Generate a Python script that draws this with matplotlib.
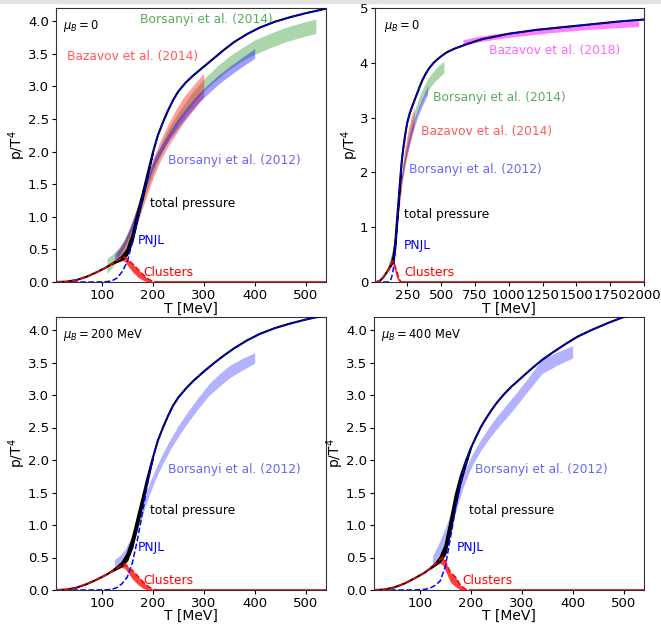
import matplotlib.pyplot as plt
from matplotlib.patches import Rectangle

# temperatures (MeV) for the model curves
T = [10, 30, 50, 70, 90, 110, 120, 130, 140, 150, 160, 170, 180, 190,
     200, 210, 220, 230, 240, 250, 265, 280, 300, 320, 340, 360, 385, 410, 440, 470, 500, 540]
T_ext = [600, 700, 800, 1000, 1200, 1400, 1600, 1800, 2000]

# total pressure p/T^4
total_0 = [0, 0.005, 0.03, 0.08, 0.15, 0.23, 0.28, 0.33, 0.39, 0.5, 0.72, 1.05, 1.35, 1.67,
           1.98, 2.25, 2.45, 2.63, 2.79, 2.92, 3.06, 3.17, 3.3, 3.43, 3.56, 3.68, 3.8, 3.9, 3.99, 4.06, 4.12, 4.19]
total_0_ext = [4.26, 4.35, 4.43, 4.53, 4.6, 4.65, 4.7, 4.75, 4.79]
total_200 = [0, 0.006, 0.035, 0.09, 0.16, 0.24, 0.29, 0.35, 0.42, 0.55, 0.78, 1.1, 1.42, 1.74,
             2.03, 2.3, 2.5, 2.68, 2.84, 2.96, 3.1, 3.22, 3.36, 3.49, 3.61, 3.72, 3.84, 3.94, 4.03, 4.1, 4.16, 4.23]
total_400 = [0, 0.007, 0.04, 0.1, 0.18, 0.27, 0.33, 0.4, 0.5, 0.68, 1.05, 1.45, 1.75, 1.98,
             2.18, 2.35, 2.51, 2.64, 2.76, 2.87, 3.01, 3.13, 3.27, 3.41, 3.54, 3.65, 3.78, 3.9, 4.01, 4.11, 4.2, 4.3]

# PNJL part
pnjl_0 = [0, 0, 0, 0, 0, 0.005, 0.02, 0.06, 0.16, 0.31, 0.62, 0.95, 1.3, 1.63,
          1.97, 2.25, 2.45, 2.63, 2.79, 2.92, 3.06, 3.17, 3.3, 3.43, 3.56, 3.68, 3.8, 3.9, 3.99, 4.06, 4.12, 4.19]
pnjl_200 = [0, 0, 0, 0, 0, 0.003, 0.01, 0.04, 0.1, 0.2, 0.42, 0.78, 1.2, 1.65,
            2.02, 2.3, 2.5, 2.68, 2.84, 2.96, 3.1, 3.22, 3.36, 3.49, 3.61, 3.72, 3.84, 3.94, 4.03, 4.1, 4.16, 4.23]
pnjl_400 = [0, 0, 0, 0, 0, 0.01, 0.03, 0.07, 0.14, 0.36, 0.8, 1.25, 1.65, 1.95,
            2.18, 2.35, 2.51, 2.64, 2.76, 2.87, 3.01, 3.13, 3.27, 3.41, 3.54, 3.65, 3.78, 3.9, 4.01, 4.11, 4.2, 4.3]

# uncertainty of total pressure near the transition
T_tb = [120, 130, 140, 150, 160, 170, 180, 190, 200]
tb_hi_0 = [0.28, 0.33, 0.39, 0.5, 0.72, 1.05, 1.35, 1.67, 1.98]
tb_lo_0 = [0.28, 0.31, 0.34, 0.42, 0.62, 0.95, 1.27, 1.62, 1.98]
tb_hi_200 = [0.29, 0.35, 0.42, 0.55, 0.78, 1.1, 1.42, 1.74, 2.03]
tb_lo_200 = [0.29, 0.33, 0.37, 0.46, 0.66, 0.98, 1.33, 1.68, 2.03]
tb_hi_400 = [0.33, 0.4, 0.5, 0.68, 1.05, 1.45, 1.75, 1.98, 2.18]
tb_lo_400 = [0.33, 0.38, 0.44, 0.55, 0.9, 1.3, 1.65, 1.92, 2.18]

# clusters
T_cl = [10, 30, 50, 70, 90, 110, 120, 130, 140, 145, 150, 160, 170, 180, 190, 200, 210]
cl_hi_0 = [0, 0.005, 0.03, 0.08, 0.15, 0.23, 0.28, 0.33, 0.38, 0.38, 0.35, 0.28, 0.2, 0.12, 0.05, 0.01, 0]
cl_lo_0 = [0, 0.005, 0.03, 0.08, 0.15, 0.23, 0.27, 0.31, 0.34, 0.31, 0.26, 0.16, 0.08, 0.03, 0, 0, 0]
cl_hi_200 = [0, 0.006, 0.035, 0.09, 0.16, 0.24, 0.29, 0.34, 0.39, 0.4, 0.37, 0.3, 0.22, 0.13, 0.06, 0.01, 0]
cl_lo_200 = [0, 0.006, 0.035, 0.09, 0.16, 0.24, 0.28, 0.32, 0.35, 0.33, 0.28, 0.17, 0.09, 0.03, 0, 0, 0]
cl_hi_400 = [0, 0.007, 0.04, 0.1, 0.18, 0.27, 0.33, 0.4, 0.47, 0.5, 0.44, 0.27, 0.2, 0.07, 0.01, 0, 0]
cl_lo_400 = [0, 0.007, 0.04, 0.1, 0.18, 0.27, 0.32, 0.38, 0.41, 0.38, 0.3, 0.12, 0.05, 0, 0, 0, 0]

# lattice results
T_bo14 = [110, 120, 130, 140, 150, 160, 170, 180, 190, 200, 215, 230, 250, 275, 300, 325, 350, 375, 400, 430, 460, 490, 520]
bo14_lo = [0.13, 0.22, 0.32, 0.44, 0.59, 0.78, 1.0, 1.22, 1.44, 1.66, 1.94, 2.18, 2.44, 2.7, 2.93, 3.1, 3.26, 3.39, 3.49, 3.59, 3.68, 3.75, 3.81]
bo14_hi = [0.36, 0.42, 0.5, 0.6, 0.75, 0.94, 1.16, 1.38, 1.6, 1.82, 2.1, 2.34, 2.6, 2.88, 3.11, 3.3, 3.46, 3.59, 3.71, 3.81, 3.9, 3.97, 4.03]

T_bz14 = [130, 140, 150, 160, 170, 180, 190, 200, 215, 230, 245, 260, 280, 300]
bz14_lo = [0.33, 0.42, 0.55, 0.72, 0.92, 1.14, 1.36, 1.58, 1.86, 2.08, 2.26, 2.44, 2.64, 2.84]
bz14_hi = [0.45, 0.57, 0.73, 0.93, 1.16, 1.4, 1.64, 1.88, 2.17, 2.42, 2.64, 2.83, 3.02, 3.2]

T_bo12 = [125, 135, 145, 155, 165, 175, 185, 195, 205, 220, 235, 250, 270, 290, 310, 330, 350, 375, 400]
bo12_lo_0 = [0.33, 0.42, 0.55, 0.73, 0.95, 1.19, 1.42, 1.63, 1.82, 2.02, 2.21, 2.37, 2.57, 2.75, 2.9, 3.04, 3.16, 3.3, 3.43]
bo12_hi_0 = [0.43, 0.52, 0.65, 0.83, 1.05, 1.29, 1.53, 1.75, 1.94, 2.14, 2.33, 2.51, 2.71, 2.89, 3.04, 3.18, 3.3, 3.44, 3.58]
bo12_lo_200 = [0.33, 0.38, 0.44, 0.58, 0.8, 1.05, 1.28, 1.5, 1.7, 1.95, 2.17, 2.36, 2.59, 2.8, 2.99, 3.13, 3.26, 3.38, 3.49]
bo12_hi_200 = [0.47, 0.53, 0.62, 0.77, 0.98, 1.22, 1.45, 1.67, 1.86, 2.11, 2.33, 2.53, 2.76, 2.97, 3.17, 3.32, 3.45, 3.56, 3.65]
T_bo12_400 = [125, 135, 145, 155, 165, 175, 185, 195, 205, 220, 235, 250, 270, 290, 310, 340, 370, 400]
bo12_lo_400 = [0.4, 0.5, 0.62, 0.8, 1.05, 1.33, 1.58, 1.78, 1.95, 2.15, 2.32, 2.47, 2.65, 2.84, 3.04, 3.33, 3.46, 3.57]
bo12_hi_400 = [0.52, 0.68, 0.86, 1.06, 1.3, 1.55, 1.78, 1.96, 2.12, 2.32, 2.5, 2.66, 2.85, 3.04, 3.24, 3.55, 3.66, 3.76]

T_bz18 = [660, 750, 900, 1050, 1200, 1400, 1600, 1800, 1960]
bz18_lo = [4.32, 4.37, 4.43, 4.48, 4.52, 4.57, 4.61, 4.64, 4.66]
bz18_hi = [4.42, 4.47, 4.53, 4.57, 4.61, 4.66, 4.7, 4.74, 4.77]

W, H = 661, 625
fig = plt.figure(figsize=(W / 100, H / 100), dpi=100)
fig.patches.append(Rectangle((0, 1 - 3 / H), 1, 3 / H, transform=fig.transFigure, color='#e2e2e2'))

def box(l, t, r, b):
    return [l / W, 1 - b / H, (r - l) / W, (b - t) / H]

ax1 = fig.add_axes(box(56, 8, 326, 282))
ax2 = fig.add_axes(box(375, 8, 644, 282))
ax3 = fig.add_axes(box(56, 317, 326, 590))
ax4 = fig.add_axes(box(374, 317, 644, 590))

FS = 8.8


def model(ax, Tm, tot, pn, clh, cll, tbl, tbh, xmax):
    ax.fill_between(T_cl, cll, clh, color='red', alpha=0.75, lw=0, zorder=3)
    ax.fill_between(T_tb, tbl, tbh, color='black', lw=0.8, zorder=4)
    ax.plot(Tm, tot, color='black', lw=1.5, zorder=4)
    ax.plot(Tm, pn, color='blue', ls='--', lw=1.1, zorder=5)
    ax.plot(T_cl, clh, color='red', ls='--', lw=1.1, zorder=5)
    ax.plot([210, xmax], [0, 0], color='red', lw=1.2, zorder=5)


def band(ax, x, lo, hi, c, a):
    ax.fill_between(x, lo, hi, color=c, alpha=a, lw=0, zorder=2)


# panel 1: mu_B = 0
band(ax1, T_bo14, bo14_lo, bo14_hi, 'green', 0.33)
band(ax1, T_bz14, bz14_lo, bz14_hi, 'red', 0.38)
band(ax1, T_bo12, bo12_lo_0, bo12_hi_0, 'blue', 0.38)
model(ax1, T, total_0, pnjl_0, cl_hi_0, cl_lo_0, tb_lo_0, tb_hi_0, 540)
ax1.text(175, 4.02, 'Borsanyi et al. (2014)', color='green', alpha=0.65, fontsize=FS, va='center')
ax1.text(32, 3.46, 'Bazavov et al. (2014)', color='red', alpha=0.65, fontsize=FS, va='center')
ax1.text(230, 1.87, 'Borsanyi et al. (2012)', color='blue', alpha=0.6, fontsize=FS, va='center')
ax1.text(194, 1.21, 'total pressure', color='black', fontsize=FS, va='center')
ax1.text(171, 0.64, 'PNJL', color='blue', fontsize=FS, va='center')
ax1.text(181, 0.15, 'Clusters', color='red', fontsize=FS, va='center')
ax1.text(0.026, 0.935, r'$\mu_B = 0$', transform=ax1.transAxes, fontsize=8.3, va='center')
ax1.set_xlim(10, 540)
ax1.set_ylim(0, 4.2)
ax1.set_xticks([100, 200, 300, 400, 500])
ax1.set_yticks([0, 0.5, 1, 1.5, 2, 2.5, 3, 3.5, 4])

# panel 2: mu_B = 0, wide range
band(ax2, T_bo14, bo14_lo, bo14_hi, 'green', 0.33)
band(ax2, T_bz14, bz14_lo, bz14_hi, 'red', 0.38)
band(ax2, T_bo12, bo12_lo_0, bo12_hi_0, 'blue', 0.38)
band(ax2, T_bz18, bz18_lo, bz18_hi, 'magenta', 0.5)
model(ax2, T + T_ext, total_0 + total_0_ext, pnjl_0 + total_0_ext, cl_hi_0, cl_lo_0, tb_lo_0, tb_hi_0, 2000)
ax2.text(853, 4.23, 'Bazavov et al. (2018)', color='magenta', alpha=0.6, fontsize=FS, va='center')
ax2.text(439, 3.36, 'Borsanyi et al. (2014)', color='green', alpha=0.65, fontsize=FS, va='center')
ax2.text(350, 2.74, 'Bazavov et al. (2014)', color='red', alpha=0.65, fontsize=FS, va='center')
ax2.text(262, 2.06, 'Borsanyi et al. (2012)', color='blue', alpha=0.6, fontsize=FS, va='center')
ax2.text(225, 1.24, 'total pressure', color='black', fontsize=FS, va='center')
ax2.text(225, 0.66, 'PNJL', color='blue', fontsize=FS, va='center')
ax2.text(225, 0.18, 'Clusters', color='red', fontsize=FS, va='center')
ax2.text(0.033, 0.935, r'$\mu_B = 0$', transform=ax2.transAxes, fontsize=8.3, va='center')
ax2.set_xlim(10, 2000)
ax2.set_ylim(0, 5)
ax2.set_xticks([250, 500, 750, 1000, 1250, 1500, 1750, 2000])

# panel 3: mu_B = 200 MeV
band(ax3, T_bo12, bo12_lo_200, bo12_hi_200, 'blue', 0.3)
model(ax3, T, total_200, pnjl_200, cl_hi_200, cl_lo_200, tb_lo_200, tb_hi_200, 540)
ax3.text(230, 1.86, 'Borsanyi et al. (2012)', color='blue', alpha=0.6, fontsize=FS, va='center')
ax3.text(194, 1.22, 'total pressure', color='black', fontsize=FS, va='center')
ax3.text(171, 0.65, 'PNJL', color='blue', fontsize=FS, va='center')
ax3.text(181, 0.15, 'Clusters', color='red', fontsize=FS, va='center')
ax3.text(0.026, 0.935, r'$\mu_B = 200\ \mathrm{MeV}$', transform=ax3.transAxes, fontsize=8.3, va='center')
ax3.set_xlim(10, 540)
ax3.set_ylim(0, 4.2)
ax3.set_xticks([100, 200, 300, 400, 500])
ax3.set_yticks([0, 0.5, 1, 1.5, 2, 2.5, 3, 3.5, 4])

# panel 4: mu_B = 400 MeV
band(ax4, T_bo12_400, bo12_lo_400, bo12_hi_400, 'blue', 0.3)
model(ax4, T, total_400, pnjl_400, cl_hi_400, cl_lo_400, tb_lo_400, tb_hi_400, 540)
ax4.text(208, 1.86, 'Borsanyi et al. (2012)', color='blue', alpha=0.6, fontsize=FS, va='center')
ax4.text(196, 1.22, 'total pressure', color='black', fontsize=FS, va='center')
ax4.text(173, 0.65, 'PNJL', color='blue', fontsize=FS, va='center')
ax4.text(183, 0.15, 'Clusters', color='red', fontsize=FS, va='center')
ax4.text(0.026, 0.935, r'$\mu_B = 400\ \mathrm{MeV}$', transform=ax4.transAxes, fontsize=8.3, va='center')
ax4.set_xlim(10, 540)
ax4.set_ylim(0, 4.2)
ax4.set_xticks([100, 200, 300, 400, 500])
ax4.set_yticks([0, 0.5, 1, 1.5, 2, 2.5, 3, 3.5, 4])

for ax in [ax1, ax2, ax3, ax4]:
    ax.tick_params(labelsize=9.5, length=3, pad=2)
    for s in ax.spines.values():
        s.set_color('#333333')

# axis labels
for x, y in [(17, 145), (350, 145), (17, 453), (335, 453)]:
    fig.text(x / W, 1 - y / H, 'p/T$^4$', rotation=90, ha='center', va='center', fontsize=10)
for x, y in [(191, 309), (509, 309), (191, 616), (509, 616)]:
    fig.text(x / W, 1 - y / H, 'T [MeV]', ha='center', va='center', fontsize=10)

plt.savefig('out.png', dpi=100)
